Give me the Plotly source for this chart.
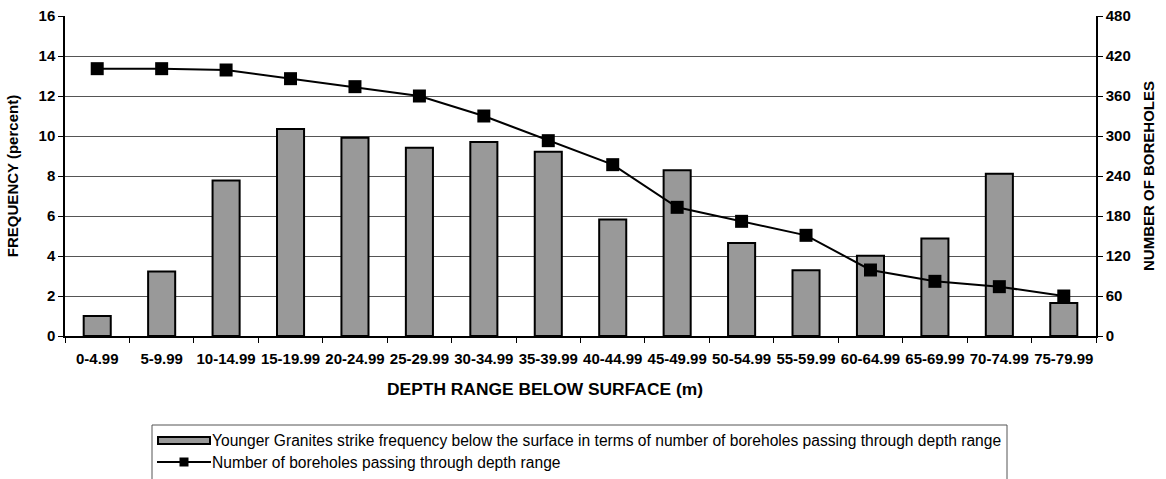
import plotly.graph_objects as go

categories = ["0-4.99", "5-9.99", "10-14.99", "15-19.99", "20-24.99", "25-29.99",
              "30-34.99", "35-39.99", "40-44.99", "45-49.99", "50-54.99", "55-59.99",
              "60-64.99", "65-69.99", "70-74.99", "75-79.99"]
frequency_pct = [1.0, 3.22, 7.77, 10.35, 9.91, 9.41, 9.7, 9.21, 5.82, 8.29,
                 4.65, 3.29, 4.01, 4.88, 8.11, 1.65]
boreholes = [401, 401, 399, 386, 374, 360, 330, 293, 257, 193, 172, 151,
             99, 82, 74, 60]

left_ticks = [0, 2, 4, 6, 8, 10, 12, 14, 16]
right_ticks = [0, 60, 120, 180, 240, 300, 360, 420, 480]

bar_name = "Younger Granites strike frequency below the surface in terms of number of boreholes passing through depth range"
line_name = "Number of boreholes passing through depth range"
x_title = "DEPTH RANGE BELOW SURFACE (m)"

FONT = "Liberation Sans, Arial, sans-serif"
W, H = 1166, 479
ML, MR, MT, MB = 65, 70, 16, 143
PW, PH = W - ML - MR, H - MT - MB


def px(x):
    return (x - ML) / PW


def py(y):
    return (H - MB - y) / PH


fig = go.Figure()
fig.add_trace(go.Bar(
    x=categories, y=frequency_pct, name=bar_name,
    marker=dict(color="#999999", line=dict(color="black", width=2)),
    yaxis="y", showlegend=False,
))
fig.add_trace(go.Scatter(
    x=categories, y=boreholes, name=line_name,
    mode="lines+markers",
    line=dict(color="black", width=2),
    marker=dict(symbol="square", size=13, color="black"),
    yaxis="y2", showlegend=False,
))

# hand-drawn legend (box, symbols, texts)
shapes = [
    dict(type="rect", xref="paper", yref="paper",
         x0=px(152), x1=px(1007), y0=py(492), y1=py(425),
         line=dict(color="#555555", width=1), fillcolor="white", layer="below"),
    dict(type="rect", xref="paper", yref="paper",
         x0=px(158), x1=px(210), y0=py(444), y1=py(437),
         line=dict(color="black", width=2), fillcolor="#999999"),
    dict(type="line", xref="paper", yref="paper",
         x0=px(157), x1=px(211), y0=py(462), y1=py(462),
         line=dict(color="black", width=2)),
    dict(type="rect", xref="paper", yref="paper",
         x0=px(179.5), x1=px(188.5), y0=py(466.5), y1=py(457.5),
         line=dict(color="black", width=0), fillcolor="black"),
]
annotations = [
    dict(xref="paper", yref="paper", x=px(210), y=py(440.5), xanchor="left",
         yanchor="middle", text=bar_name, showarrow=False,
         font=dict(family=FONT, size=15.6, color="black")),
    dict(xref="paper", yref="paper", x=px(210), y=py(462), xanchor="left",
         yanchor="middle", text=line_name, showarrow=False,
         font=dict(family=FONT, size=15.6, color="black")),
    dict(xref="paper", yref="paper", x=px(545), y=py(389), xanchor="center",
         yanchor="middle", text="<b>" + x_title + "</b>", showarrow=False,
         font=dict(family=FONT, size=17.4, color="black")),
]

fig.update_layout(
    width=W, height=H,
    margin=dict(l=ML, r=MR, t=MT, b=MB),
    paper_bgcolor="white", plot_bgcolor="white",
    font=dict(family=FONT, color="black", size=15),
    bargap=0.58,
    shapes=shapes, annotations=annotations,
    xaxis=dict(
        type="category", automargin=False, tickangle=0,
        range=[-0.5, len(categories) - 0.5],
        showline=True, linecolor="black", linewidth=1.5,
        ticks="outside", ticklen=5, tickcolor="black", tickson="boundaries",
        ticklabelstandoff=8,
        tickfont=dict(family=FONT, size=15, weight="bold"),
        showgrid=False,
    ),
    yaxis=dict(
        range=[0, 16], tickvals=left_ticks, ticktext=[str(v) for v in left_ticks],
        automargin=False,
        showline=True, linecolor="black", linewidth=1.5,
        ticks="outside", ticklen=5, tickcolor="black",
        showgrid=True, gridcolor="#555555", gridwidth=1,
        tickfont=dict(family=FONT, size=15, weight="bold"),
        title=dict(text="FREQUENCY (percent)",
                   font=dict(family=FONT, size=15, weight="bold"), standoff=16),
        zeroline=False,
    ),
    yaxis2=dict(
        range=[0, 480], tickvals=right_ticks, ticktext=[str(v) for v in right_ticks],
        overlaying="y", side="right", automargin=False,
        showline=True, linecolor="black", linewidth=1.5,
        ticks="outside", ticklen=5, tickcolor="black",
        showgrid=False,
        tickfont=dict(family=FONT, size=15, weight="bold"),
        title=dict(text="NUMBER OF BOREHOLES",
                   font=dict(family=FONT, size=15, weight="bold"), standoff=14),
        zeroline=False,
    ),
)

fig.write_html(
    "out.html",
    config={"displayModeBar": False},
    post_script="document.body.style.margin='0';document.body.style.overflow='hidden';",
)
